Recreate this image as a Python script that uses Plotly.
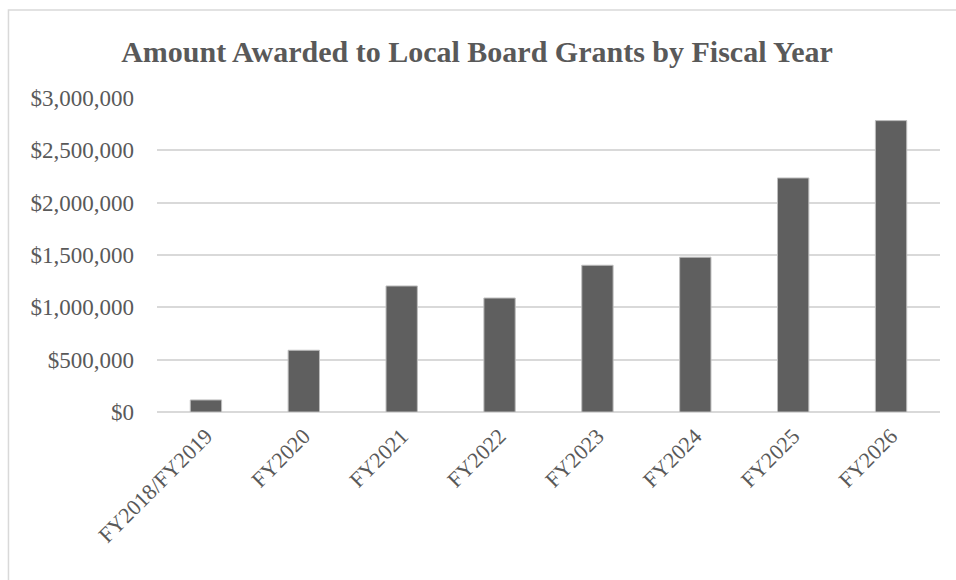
import plotly.graph_objects as go

categories = ["FY2018/FY2019", "FY2020", "FY2021", "FY2022", "FY2023", "FY2024", "FY2025", "FY2026"]
amounts = [115000, 590000, 1204000, 1089000, 1402000, 1479000, 2236000, 2784000]
y_ticks = [0, 500000, 1000000, 1500000, 2000000, 2500000, 3000000]
y_tick_labels = ["$0", "$500,000", "$1,000,000", "$1,500,000", "$2,000,000", "$2,500,000", "$3,000,000"]

FONT = "Liberation Serif"
TXT = "#595959"

fig = go.Figure()
fig.add_trace(go.Bar(
    x=categories, y=amounts,
    marker=dict(color="#5f5f5f", line=dict(color="#bdbdbd", width=1)),
    hoverinfo="x+y",
))

fig.update_layout(
    width=956, height=580,
    margin=dict(l=157, r=16, t=98, b=168),
    paper_bgcolor="white", plot_bgcolor="white",
    bargap=0.68,
    showlegend=False,
    title=dict(
        text="<b>Amount Awarded to Local Board Grants by Fiscal Year</b>",
        x=0.499, xanchor="center", y=0.912, yanchor="middle",
        font=dict(family=FONT, size=30, color=TXT),
    ),
    font=dict(family=FONT, color=TXT),
    xaxis=dict(
        tickangle=-45, tickfont=dict(family=FONT, size=22, color=TXT),
        showgrid=False, showline=False, ticks="", ticklabelstandoff=6,
    ),
    yaxis=dict(
        range=[0, 3000000], tickvals=y_ticks, ticktext=y_tick_labels,
        tickfont=dict(family=FONT, size=23, color=TXT),
        showgrid=True, gridcolor="#d9d9d9", gridwidth=1.5,
        zeroline=True, zerolinecolor="#d9d9d9", zerolinewidth=1.5,
        showline=False, ticks="", ticklabelstandoff=22,
    ),
    shapes=[dict(
        type="rect", xref="paper", yref="paper",
        x0=-0.1897, x1=1.03, y0=-0.6, y1=1.2803,
        line=dict(color="#d9d9d9", width=1.5), fillcolor="rgba(0,0,0,0)", layer="below",
    )],
)

fig.write_html("out.html")
